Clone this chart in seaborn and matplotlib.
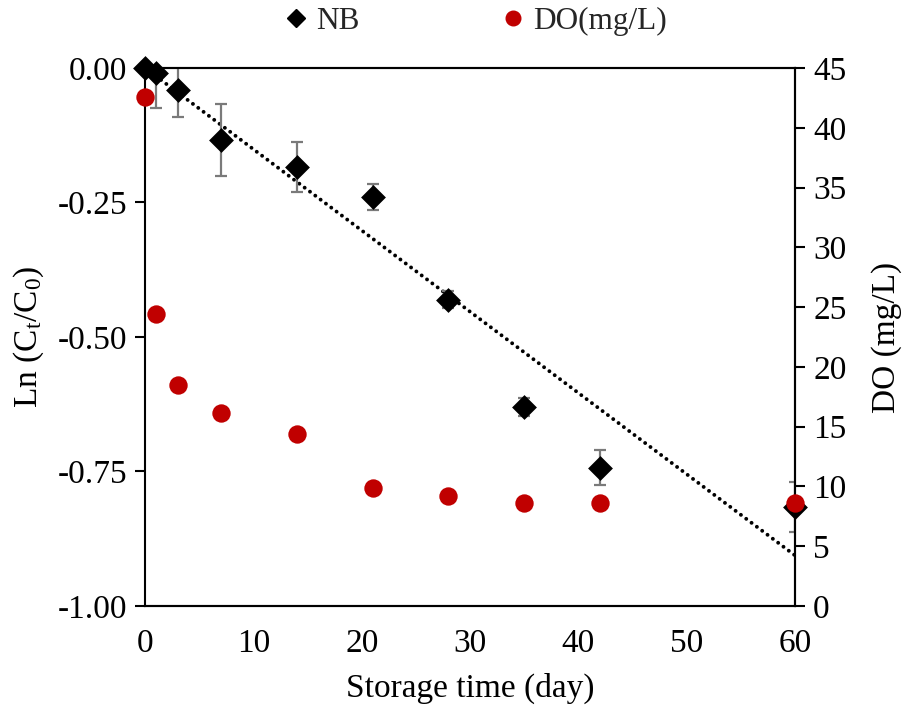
import matplotlib
matplotlib.use("Agg")
import matplotlib.pyplot as plt
import seaborn as sns
import pandas as pd
import numpy as np
from matplotlib.ticker import FormatStrFormatter, MultipleLocator
from matplotlib.lines import Line2D

# ---- data ----
days = [0, 1, 3, 7, 14, 21, 28, 35, 42, 60]
nb_ln = [0.000, -0.010, -0.041, -0.134, -0.184, -0.240, -0.431, -0.630, -0.743, -0.816]
nb_err = [0.000, 0.065, 0.050, 0.067, 0.046, 0.024, 0.016, 0.017, 0.033, 0.046]
do_mgl = [42.6, 24.4, 18.5, 16.1, 14.4, 9.9, 9.2, 8.6, 8.6, 8.6]
trend_slope = -0.0151
trend_x = [0, 60]

nb_df = pd.DataFrame({"day": days, "ln": nb_ln, "err": nb_err})
do_df = pd.DataFrame({"day": days, "do": do_mgl})
trend_df = pd.DataFrame({"day": trend_x, "fit": [trend_slope * x for x in trend_x]})

sns.set_theme(style="white")
plt.rcParams["font.family"] = ["Liberation Serif", "DejaVu Serif"]
plt.rcParams["mathtext.fontset"] = "custom"
plt.rcParams["mathtext.rm"] = "Liberation Serif"
plt.rcParams["mathtext.it"] = "Liberation Serif:italic"
plt.rcParams["axes.unicode_minus"] = False

FS = 24
fig = plt.figure(figsize=(9.02, 7.11), dpi=100)
ax = fig.add_axes([0.1608, 0.1477, 0.7206, 0.7567])
ax2 = ax.twinx()

# trend line
sns.lineplot(data=trend_df, x="day", y="fit", ax=ax, color="black", lw=2.8,
             linestyle=(0, (0.01, 1.7)), legend=False, zorder=2)
ax.get_lines()[-1].set_dash_capstyle("round")

# error bars
ax.errorbar(nb_df["day"], nb_df["ln"], yerr=nb_df["err"], fmt="none",
            ecolor="#7a7a7a", elinewidth=1.6, capsize=4.3, capthick=1.6,
            zorder=3, clip_on=True)
# NB markers
sns.scatterplot(data=nb_df, x="day", y="ln", ax=ax, marker="D", s=160,
                color="black", edgecolor="black", linewidth=0, zorder=4,
                clip_on=False, legend=False)
# DO markers
sns.scatterplot(data=do_df, x="day", y="do", ax=ax2, marker="o", s=175,
                color="#c00000", edgecolor="#c00000", linewidth=0, zorder=4,
                clip_on=False, legend=False)

ax.set_xlim(0, 60)
ax.set_ylim(-1.0, 0.0)
ax2.set_ylim(0, 45)
ax.xaxis.set_major_locator(MultipleLocator(10))
ax.yaxis.set_major_locator(MultipleLocator(0.25))
ax.yaxis.set_major_formatter(FormatStrFormatter("%.2f"))
ax2.yaxis.set_major_locator(MultipleLocator(5))

for a in (ax, ax2):
    for s in a.spines.values():
        s.set_color("black")
        s.set_linewidth(1.5)
ax2.spines["left"].set_visible(False)

ax.tick_params(axis="x", length=0, labelsize=FS, pad=16, colors="black")
ax.tick_params(axis="y", direction="out", length=7, width=1.5, labelsize=FS,
               colors="black", left=True, right=False, pad=6)
ax2.tick_params(axis="y", direction="out", length=7, width=1.5, labelsize=FS,
                colors="black", right=True, left=False, pad=6)

ax.set_xlabel("Storage time (day)", fontsize=FS, color="black", labelpad=10)
ax.set_ylabel(r"Ln (C$_\mathregular{t}$/C$_\mathregular{0}$)", fontsize=FS, color="black", labelpad=8)
ax2.set_ylabel("DO (mg/L)", fontsize=FS, color="black", labelpad=18)

handles = [
    Line2D([], [], marker="D", color="black", linestyle="none", markersize=9),
    Line2D([], [], marker="o", color="#c00000", linestyle="none", markersize=10.5),
]
fig.legend(handles, ["NB", "DO(mg/L)"], loc="center", bbox_to_anchor=(0.525, 0.970),
           ncol=2, frameon=False, fontsize=22.5, handletextpad=0.15,
           columnspacing=4.4, handlelength=1.0)

fig.savefig("out.png", dpi=100)
